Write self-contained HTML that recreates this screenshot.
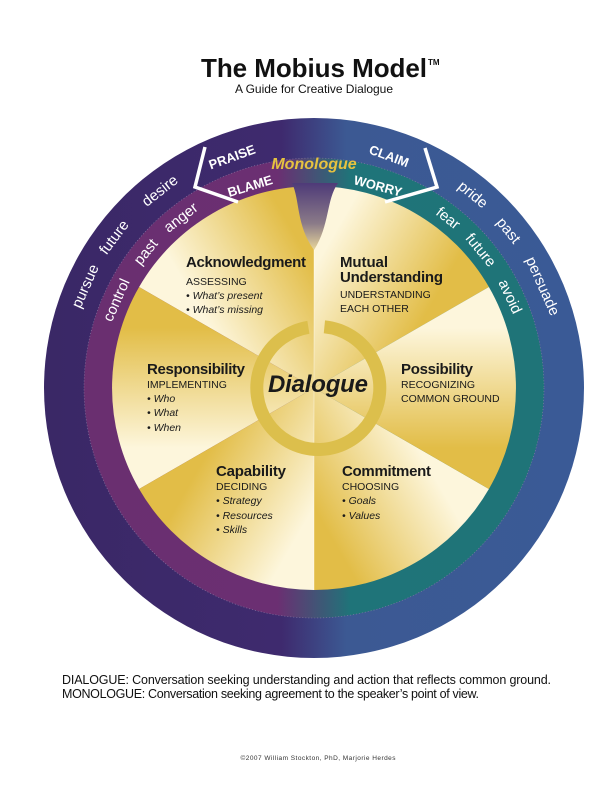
<!DOCTYPE html>
<html><head><meta charset="utf-8"><style>
html,body{margin:0;padding:0;background:#fff}
svg{display:block}
text{font-family:"Liberation Sans",sans-serif}
</style></head><body>
<svg width="612" height="792" viewBox="0 0 612 792" xmlns="http://www.w3.org/2000/svg">
<defs>
<linearGradient id="go" x1="0" y1="0" x2="1" y2="0">
<stop offset="0" stop-color="#3a2866"/><stop offset="0.44" stop-color="#3e2a6e"/><stop offset="0.56" stop-color="#3c5993"/><stop offset="1" stop-color="#3a5a96"/>
</linearGradient>
<linearGradient id="gi" x1="0" y1="0" x2="1" y2="0">
<stop offset="0" stop-color="#6a2f70"/><stop offset="0.42" stop-color="#6b2f72"/><stop offset="0.58" stop-color="#1f7479"/><stop offset="1" stop-color="#1f7478"/>
</linearGradient>
<linearGradient id="s1" gradientUnits="userSpaceOnUse" x1="417.9" y1="328" x2="314" y2="268"><stop offset="0" stop-color="#e2bd47"/><stop offset="1" stop-color="#fdf6dc"/></linearGradient>
<linearGradient id="s2" gradientUnits="userSpaceOnUse" x1="314" y1="268" x2="210.1" y2="328"><stop offset="0" stop-color="#e2bd47"/><stop offset="1" stop-color="#fdf6dc"/></linearGradient>
<linearGradient id="s3" gradientUnits="userSpaceOnUse" x1="210.1" y1="328" x2="210.1" y2="448"><stop offset="0" stop-color="#e2bd47"/><stop offset="1" stop-color="#fdf6dc"/></linearGradient>
<linearGradient id="s4" gradientUnits="userSpaceOnUse" x1="210.1" y1="448" x2="314" y2="508"><stop offset="0" stop-color="#e2bd47"/><stop offset="1" stop-color="#fdf6dc"/></linearGradient>
<linearGradient id="s5" gradientUnits="userSpaceOnUse" x1="314" y1="508" x2="417.9" y2="448"><stop offset="0" stop-color="#e2bd47"/><stop offset="1" stop-color="#fdf6dc"/></linearGradient>
<linearGradient id="s6" gradientUnits="userSpaceOnUse" x1="417.9" y1="448" x2="417.9" y2="328"><stop offset="0" stop-color="#e2bd47"/><stop offset="1" stop-color="#fdf6dc"/></linearGradient>
<linearGradient id="notch" x1="0" y1="0" x2="0" y2="1">
<stop offset="0" stop-color="#4e3a78"/><stop offset="0.6" stop-color="#8a7a88"/><stop offset="1" stop-color="#e8d69a"/></linearGradient>
</defs>

<text x="314" y="77" font-size="26" font-weight="bold" text-anchor="middle" textLength="226" fill="#111">The Mobius Model</text>
<text x="428" y="65" font-size="8" font-weight="bold" fill="#111">TM</text>
<text x="314" y="93" font-size="12" text-anchor="middle" textLength="158" fill="#111">A Guide for Creative Dialogue</text>

<circle cx="314" cy="388" r="270" fill="url(#go)"/>
<circle cx="314" cy="388" r="230" fill="url(#gi)" stroke="#8c7fa8" stroke-width="0.6" stroke-dasharray="1 2"/>

<path d="M314 388 L488.9 287 A202 202 0 0 0 314 186 Z" fill="url(#s1)"/>
<path d="M314 388 L314 186 A202 202 0 0 0 139.1 287 Z" fill="url(#s2)"/>
<path d="M314 388 L139.1 287 A202 202 0 0 0 139.1 489 Z" fill="url(#s3)"/>
<path d="M314 388 L139.1 489 A202 202 0 0 0 314 590 Z" fill="url(#s4)"/>
<path d="M314 388 L314 590 A202 202 0 0 0 488.9 489 Z" fill="url(#s5)"/>
<path d="M314 388 L488.9 489 A202 202 0 0 0 488.9 287 Z" fill="url(#s6)"/>
<line x1="314" y1="186" x2="314" y2="590" stroke="#fff" stroke-width="0.6" opacity="0.6"/>

<path d="M292 183 C300 200 296 225 314 250 C330 225 326 200 338 183 Z" fill="url(#notch)"/>

<polyline points="205,147 195,187 238,202" fill="none" stroke="#fff" stroke-width="3.5" stroke-linejoin="miter"/>
<polyline points="425,148 437,187 385,202" fill="none" stroke="#fff" stroke-width="3.5" stroke-linejoin="miter"/>

<g fill="#fff" font-size="15" text-anchor="middle" dominant-baseline="central">
<text transform="translate(85.6,286.3) rotate(-66)">pursue</text>
<text transform="translate(114.3,237.5) rotate(-53)">future</text>
<text transform="translate(160.1,191) rotate(-38)">desire</text>
<text transform="translate(116.7,300.2) rotate(-66)">control</text>
<text transform="translate(146.1,252.1) rotate(-51)">past</text>
<text transform="translate(181,217.8) rotate(-38)">anger</text>
<text transform="translate(472.7,194.8) rotate(39.4)">pride</text>
<text transform="translate(508.3,230.7) rotate(51)">past</text>
<text transform="translate(542.4,286.3) rotate(66)">persuade</text>
<text transform="translate(447.9,218.5) rotate(38.3)">fear</text>
<text transform="translate(480.4,250.3) rotate(50.4)">future</text>
<text transform="translate(509.8,296.7) rotate(65)">avoid</text>
</g>
<g fill="#fff" font-size="13" font-weight="bold" text-anchor="middle" dominant-baseline="central">
<text transform="translate(232,157) rotate(-20)">PRAISE</text>
<text transform="translate(389,156) rotate(20)">CLAIM</text>
<text transform="translate(250,186) rotate(-17)">BLAME</text>
<text transform="translate(378,186) rotate(15)">WORRY</text>
</g>
<text x="314" y="169" font-size="16" font-weight="bold" font-style="italic" text-anchor="middle" fill="#e6c240">Monologue</text>

<path d="M324.4 326.8 A61.5 61.5 0 1 1 308.4 327.3" fill="none" stroke="#dcbf4c" stroke-width="13"/>
<text x="318" y="392" font-size="24" font-weight="bold" font-style="italic" text-anchor="middle" textLength="100" fill="#1a1a1a">Dialogue</text>

<g fill="#1a1a1a">
<g font-size="15" font-weight="bold">
<text x="186" y="267" textLength="120">Acknowledgment</text>
<text x="340" y="267" textLength="48">Mutual</text>
<text x="340" y="282" textLength="103">Understanding</text>
<text x="147" y="374" textLength="98">Responsibility</text>
<text x="401" y="374" textLength="72">Possibility</text>
<text x="216" y="476" textLength="70">Capability</text>
<text x="342" y="476" textLength="89">Commitment</text>
</g>
<g font-size="10.5">
<text x="186" y="285">ASSESSING</text>
<text x="340" y="298">UNDERSTANDING</text>
<text x="340" y="312">EACH OTHER</text>
<text x="147" y="388">IMPLEMENTING</text>
<text x="401" y="388">RECOGNIZING</text>
<text x="401" y="402">COMMON GROUND</text>
<text x="216" y="490">DECIDING</text>
<text x="342" y="490">CHOOSING</text>
</g>
<g font-size="10.5" font-style="italic">
<text x="186" y="299">• What’s present</text>
<text x="186" y="313">• What’s missing</text>
<text x="147" y="402">• Who</text>
<text x="147" y="416">• What</text>
<text x="147" y="431">• When</text>
<text x="216" y="504">• Strategy</text>
<text x="216" y="519">• Resources</text>
<text x="216" y="533">• Skills</text>
<text x="342" y="504">• Goals</text>
<text x="342" y="519">• Values</text>
</g>
</g>

<text x="62" y="684" font-size="12.5" textLength="489" fill="#111">DIALOGUE: Conversation seeking understanding and action that reflects common ground.</text>
<text x="62" y="698" font-size="12.5" textLength="417" fill="#111">MONOLOGUE: Conversation seeking agreement to the speaker’s point of view.</text>
<text x="318" y="760" font-size="6.5" text-anchor="middle" textLength="155" fill="#333">©2007  William Stockton, PhD,  Marjorie Herdes</text>
</svg>
</body></html>
